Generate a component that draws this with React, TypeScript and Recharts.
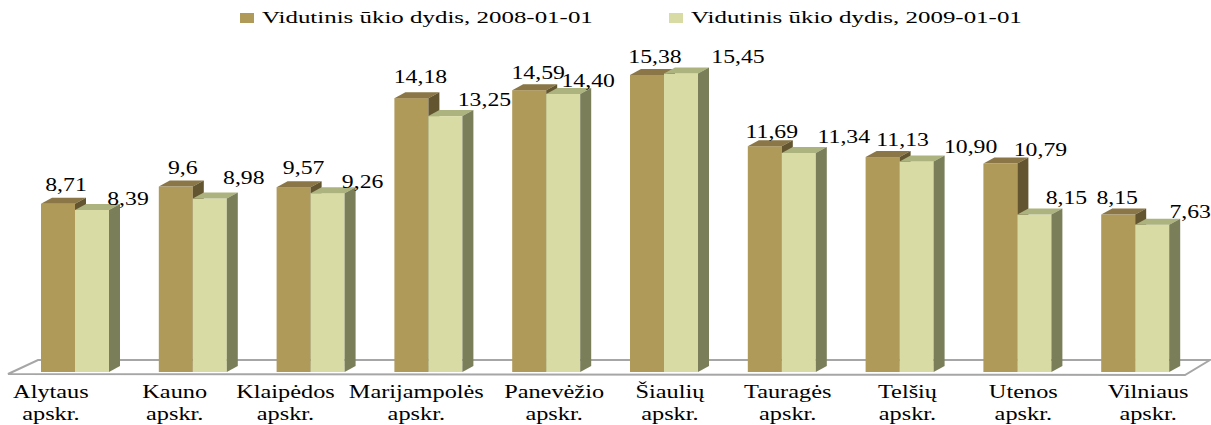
import React from "react";
import { BarChart, Bar, XAxis, YAxis, Legend } from "recharts";

const CATEGORIES = [
  "Alytaus",
  "Kauno",
  "Klaipėdos",
  "Marijampolės",
  "Panevėžio",
  "Šiaulių",
  "Tauragės",
  "Telšių",
  "Utenos",
  "Vilniaus",
];
const SERIES_NAMES = ["Vidutinis ūkio dydis, 2008-01-01", "Vidutinis ūkio dydis, 2009-01-01"];
const VALUES_2008 = [8.71, 9.6, 9.57, 14.18, 14.59, 15.38, 11.69, 11.13, 10.79, 8.15];
const VALUES_2009 = [8.39, 8.98, 9.26, 13.25, 14.4, 15.45, 11.34, 10.9, 8.15, 7.63];
// etiketės taip, kaip jos parašytos originale (9,6 be nulio)
const TEXT_2008 = ["8,71", "9,6", "9,57", "14,18", "14,59", "15,38", "11,69", "11,13", "10,79", "8,15"];
const TEXT_2009 = ["8,39", "8,98", "9,26", "13,25", "14,40", "15,45", "11,34", "10,90", "8,15", "7,63"];

// Excel'io 3D etikečių poslinkiai (tik išdėstymas)
const NUDGE_X_2008 = [8, 7, 10, 9, 9, 8, 7, 20, 40, -1];
const NUDGE_X_2009 = [36, 34, 35, 39, 25, 57, 45, 54, 32, 38];
const NUDGE_Y_2008 = [-19, -19, -19, -21, -17, -18, -14, -17, -14, -17];
const NUDGE_Y_2009 = [-11, -21, -11, -16, -13, -17, -16, -14, -17, -13];
// kategorijų pavadinimai perspektyvoje pasislinkę nuo stulpelių centro
const TICK_SHIFT = [-24, -18, -25, -12, 8, 6, 6, 8, 6, 13];

const rows = CATEGORIES.map((name, i) => ({
  name,
  v2008: VALUES_2008[i],
  v2009: VALUES_2009[i],
}));

const FONT = "'Liberation Serif', 'Times New Roman', serif";
const DEPTH_X = 11;
const DEPTH_Y = 6;

const PAL_2008 = { front: "#B09A5A", top: "#8A7646", side: "#63552F" };
const PAL_2009 = { front: "#D8DCA4", top: "#ADB37F", side: "#7A7F5A" };

function Block(props: any) {
  const { x, y, width, height, pal } = props;
  if (height == null || height <= 0) return null;
  const r = x + width;
  const b = y + height;
  return (
    <g>
      <rect x={x} y={y} width={width} height={height} fill={pal.front} />
      <polygon
        points={`${x},${y} ${x + DEPTH_X},${y - DEPTH_Y} ${r + DEPTH_X},${y - DEPTH_Y} ${r},${y}`}
        fill={pal.top}
      />
      <polygon
        points={`${r},${y} ${r + DEPTH_X},${y - DEPTH_Y} ${r + DEPTH_X},${b - DEPTH_Y} ${r},${b}`}
        fill={pal.side}
      />
    </g>
  );
}

function ValueLabel(props: any) {
  const { x, y, width, index, texts, nx, ny } = props;
  const cx = x + width / 2 + nx[index];
  const cy = y + ny[index] + 6;
  return (
    <text
      transform={`translate(${cx},${cy}) scale(1.32,1)`}
      textAnchor="middle"
      style={{ fontFamily: FONT }}
      fontSize={18}
      fill="#000"
    >
      {texts[index]}
    </text>
  );
}

function CategoryTick(props: any) {
  const { x, y, payload } = props;
  const i = payload.index ?? 0;
  const cx = x + TICK_SHIFT[i];
  return (
    <g style={{ fontFamily: FONT }} fontSize={19} fill="#000">
      <text transform={`translate(${cx},${y + 18}) scale(1.28,1)`} textAnchor="middle">
        {payload.value}
      </text>
      <text transform={`translate(${cx},${y + 40}) scale(1.28,1)`} textAnchor="middle">
        apskr.
      </text>
    </g>
  );
}

function LegendBox() {
  const items = [
    { name: SERIES_NAMES[0], color: PAL_2008.front, left: 240 },
    { name: SERIES_NAMES[1], color: PAL_2009.front, left: 669 },
  ];
  return (
    <div style={{ position: "relative", width: 1211, height: 0 }}>
      {items.map((it) => (
        <React.Fragment key={it.name}>
          <div
            style={{
              position: "absolute",
              left: it.left,
              top: 13,
              width: 14,
              height: 10,
              background: it.color,
            }}
          />
          <span
            style={{
              position: "absolute",
              left: it.left + 22,
              top: 9,
              fontFamily: FONT,
              fontSize: 17,
              lineHeight: 1,
              whiteSpace: "nowrap",
              transform: "scaleX(1.466)",
              transformOrigin: "left top",
              color: "#000",
            }}
          >
            {it.name}
          </span>
        </React.Fragment>
      ))}
    </div>
  );
}

export default function App() {
  return (
    <div style={{ position: "absolute", left: 0, top: 0, width: 1211, height: 425, background: "#fff" }}>
      <svg width={1211} height={425} style={{ position: "absolute", left: 0, top: 0 }}>
        <polygon
          points="8,374 38,360 1210,360 1185,375"
          fill="#fff"
          stroke="#A6A6A6"
          strokeWidth={2}
        />
      </svg>
      <div style={{ position: "absolute", left: 0, top: 0 }}>
        <BarChart
          width={1211}
          height={425}
          data={rows}
          margin={{ top: 63, right: 17, bottom: 0, left: 16 }}
          barGap={0}
          barSize={34}
        >
          <XAxis
            dataKey="name"
            axisLine={false}
            tickLine={false}
            interval={0}
            height={53}
            tick={<CategoryTick />}
          />
          <YAxis hide domain={[0, 16]} />
          <Legend
            verticalAlign="top"
            wrapperStyle={{ top: 0, left: 0, width: 1211 }}
            content={() => <LegendBox />}
          />
          <Bar
            dataKey="v2008"
            name={SERIES_NAMES[0]}
            fill={PAL_2008.front}
            isAnimationActive={false}
            shape={(p: any) => <Block {...p} pal={PAL_2008} />}
            label={(p: any) => (
              <ValueLabel {...p} texts={TEXT_2008} nx={NUDGE_X_2008} ny={NUDGE_Y_2008} />
            )}
          />
          <Bar
            dataKey="v2009"
            name={SERIES_NAMES[1]}
            fill={PAL_2009.front}
            isAnimationActive={false}
            shape={(p: any) => <Block {...p} pal={PAL_2009} />}
            label={(p: any) => (
              <ValueLabel {...p} texts={TEXT_2009} nx={NUDGE_X_2009} ny={NUDGE_Y_2009} />
            )}
          />
        </BarChart>
      </div>
    </div>
  );
}
